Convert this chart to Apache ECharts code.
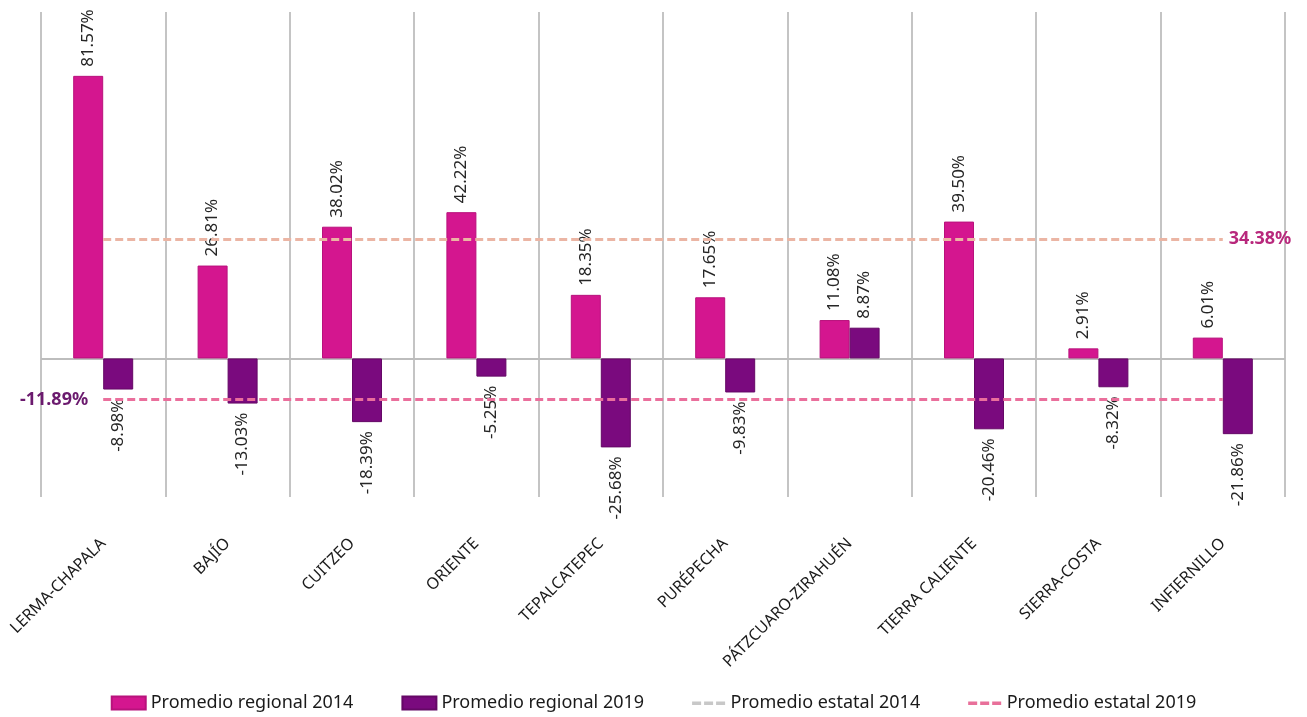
<!DOCTYPE html>
<html>
<head>
<meta charset="utf-8">
<script src="https://cdn.jsdelivr.net/npm/echarts@6/dist/echarts.min.js"></script>
<style>
html,body{margin:0;padding:0;background:#fff;}
#chart{width:1307px;height:717px;}
</style>
</head>
<body>
<div id="chart"></div>
<script>
const categories = ['LERMA-CHAPALA','BAJÍO','CUITZEO','ORIENTE','TEPALCATEPEC','PURÉPECHA','PÁTZCUARO-ZIRAHUÉN','TIERRA CALIENTE','SIERRA-COSTA','INFIERNILLO'];
const regional2014 = [81.57, 26.81, 38.02, 42.22, 18.35, 17.65, 11.08, 39.50, 2.91, 6.01];
const regional2019 = [-8.98, -13.03, -18.39, -5.25, -25.68, -9.83, 8.87, -20.46, -8.32, -21.86];
const estatal2014 = 34.38;
const estatal2019 = -11.89;

const FONT = 'Noto Sans';
const DASH_ICON = 'path://M0,0L0.01,0L0,0.01ZM0,13L0.01,13L0,12.99ZM0,5h9v3.5h-9zM12,5h9v3.5h-9zM24,5h9v3.5h-9z';

function barData(arr){
  return arr.map(v => ({
    value: v,
    label: v >= 0
      ? {position: 'top', align: 'left', distance: 9}
      : {position: 'bottom', align: 'right', distance: 9}
  }));
}

const labelBase = {
  show: true, rotate: 90, verticalAlign: 'middle',
  fontFamily: FONT, fontSize: 17, color: '#262626',
  formatter: p => p.value.toFixed(2) + '%'
};

const chart = echarts.init(document.getElementById('chart'));
chart.setOption({
  backgroundColor: '#ffffff',
  animation: false,
  textStyle: {fontFamily: FONT},
  grid: {left: 41, right: 22, top: 12, bottom: 220},
  legend: {
    bottom: 0, left: 'center', itemWidth: 34, itemHeight: 13, itemGap: 48,
    textStyle: {fontFamily: FONT, fontSize: 18, color: '#1a1a1a'},
    data: [
      {name: 'Promedio regional 2014', icon: 'rect'},
      {name: 'Promedio regional 2019', icon: 'rect'},
      {name: 'Promedio estatal 2014', icon: DASH_ICON},
      {name: 'Promedio estatal 2019', icon: DASH_ICON}
    ]
  },
  xAxis: {
    type: 'category', data: categories,
    axisLine: {show: false}, axisTick: {show: false},
    splitLine: {show: true, lineStyle: {color: '#c4c4c4', width: 2}},
    axisLabel: {rotate: 45, margin: 44, fontFamily: FONT, fontSize: 16, color: '#1a1a1a', interval: 0}
  },
  yAxis: {
    type: 'value', min: -40, max: 100,
    axisLine: {show: false}, axisTick: {show: false}, axisLabel: {show: false},
    splitLine: {show: false}
  },
  series: [
    {
      name: 'Promedio regional 2014', type: 'bar', barWidth: 30, barGap: '0%',
      itemStyle: {color: '#d4168f', borderColor: '#b8127c', borderWidth: 1},
      label: labelBase,
      data: barData(regional2014),
      markLine: {
        silent: true, symbol: 'none', label: {show: false},
        lineStyle: {color: '#bdbdbd', width: 2, type: 'solid'},
        data: [{yAxis: 0}], z: 1
      }
    },
    {
      name: 'Promedio regional 2019', type: 'bar', barWidth: 30, barGap: '0%',
      itemStyle: {color: '#7a0a7e', borderColor: '#650866', borderWidth: 1},
      label: labelBase,
      data: barData(regional2019)
    },
    {
      name: 'Promedio estatal 2014', type: 'line', symbol: 'none', data: [],
      itemStyle: {color: '#c8c8c8', borderWidth: 0},
      lineStyle: {color: '#c8c8c8', type: [7, 4], width: 3},
      markLine: {
        silent: true, symbol: 'none',
        lineStyle: {color: '#ebb5a4', type: [8, 4], width: 3},
        label: {show: true, position: 'end', distance: 6, formatter: estatal2014.toFixed(2) + '%',
                color: '#b8287c', fontFamily: FONT, fontSize: 18, fontWeight: 'bold'},
        data: [[{coord: [categories[0], estatal2014]}, {coord: [categories[categories.length-1], estatal2014]}]]
      }
    },
    {
      name: 'Promedio estatal 2019', type: 'line', symbol: 'none', data: [],
      itemStyle: {color: '#e8709a', borderWidth: 0},
      lineStyle: {color: '#e8709a', type: [7, 4], width: 3},
      markLine: {
        silent: true, symbol: 'none',
        lineStyle: {color: '#ea6f9c', type: [8, 4], width: 3},
        label: {show: true, position: 'start', distance: 15, formatter: estatal2019.toFixed(2) + '%',
                color: '#6b1a6e', fontFamily: FONT, fontSize: 18, fontWeight: 'bold'},
        data: [[{coord: [categories[0], estatal2019]}, {coord: [categories[categories.length-1], estatal2019]}]]
      }
    }
  ]
});
</script>
</body>
</html>
